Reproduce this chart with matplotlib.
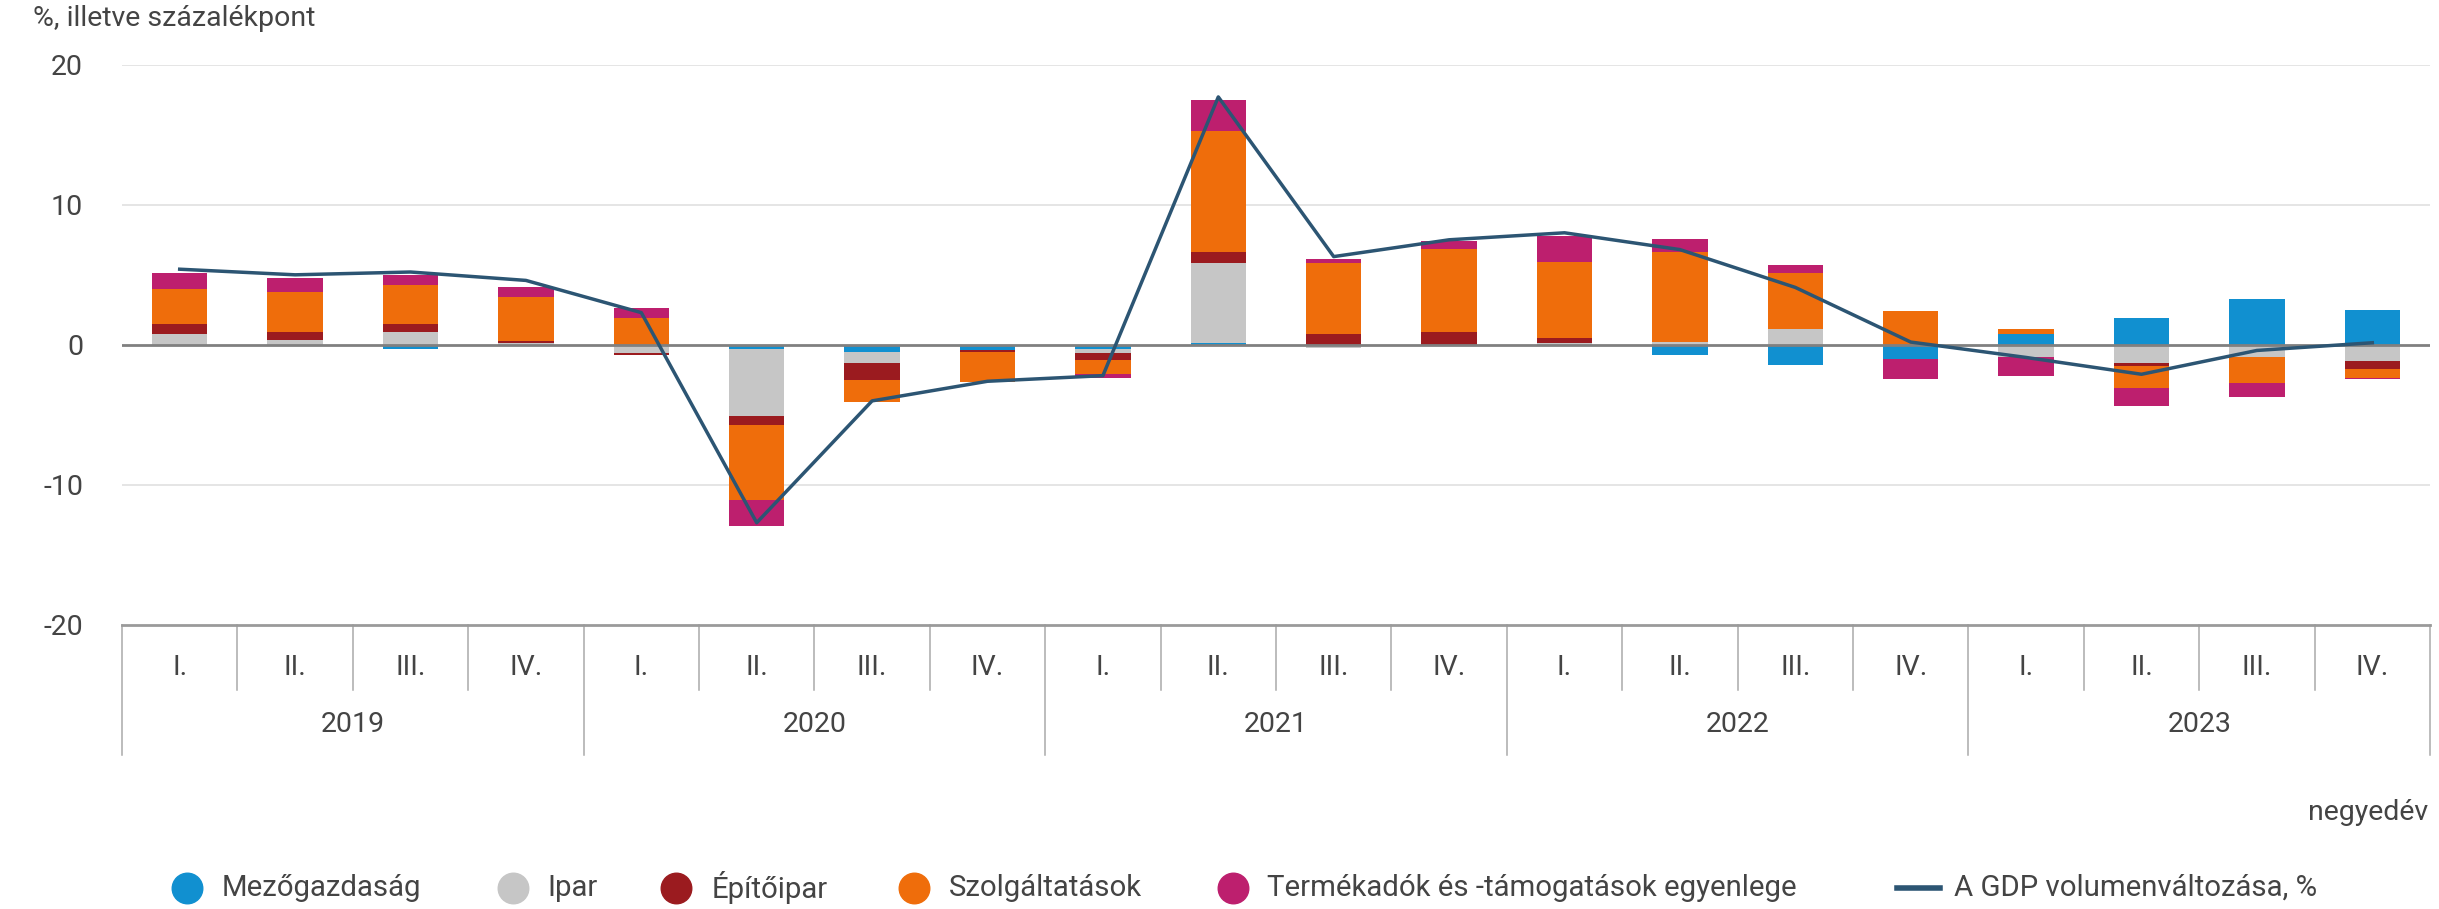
import numpy as np
import matplotlib.pyplot as plt
from matplotlib.lines import Line2D

plt.rcParams['font.family'] = ['Roboto', 'DejaVu Sans']
plt.rcParams['axes.unicode_minus'] = False

quarters = ["I.", "II.", "III.", "IV."] * 5
years = ["2019", "2020", "2021", "2022", "2023"]

# contributions, percentage points
mezogazdasag = [0.0, 0.0, -0.3, 0.0, 0.0, -0.3, -0.5, -0.35, -0.3, 0.1,
                0.0, 0.0, 0.0, -0.75, -1.45, -1.0, 0.75, 1.9, 3.25, 2.5]
ipar = [0.75, 0.35, 0.95, 0.1, -0.6, -4.8, -0.8, 0.0, -0.3, 5.75,
        -0.2, -0.1, 0.1, 0.2, 1.15, 0.0, -0.9, -1.3, -0.85, -1.15]
epitoipar = [0.75, 0.6, 0.55, 0.15, -0.1, -0.6, -1.2, -0.15, -0.5, 0.8,
             0.75, 0.95, 0.4, 0.0, 0.0, 0.0, 0.0, -0.2, 0.0, -0.6]
szolgaltatasok = [2.5, 2.85, 2.75, 3.2, 1.95, -5.35, -1.6, -2.15, -0.95, 8.6,
                  5.1, 5.9, 5.4, 6.4, 4.0, 2.45, 0.4, -1.55, -1.9, -0.6]
termekadok = [1.1, 1.0, 0.75, 0.7, 0.7, -1.85, 0.0, 0.0, -0.3, 2.2,
              0.25, 0.55, 1.9, 0.95, 0.55, -1.45, -1.3, -1.3, -0.95, -0.1]
gdp = [5.4, 5.0, 5.2, 4.6, 2.3, -12.7, -4.0, -2.6, -2.2, 17.7,
       6.3, 7.5, 8.0, 6.8, 4.1, 0.2, -0.9, -2.1, -0.4, 0.15]

series = [mezogazdasag, ipar, epitoipar, szolgaltatasok, termekadok]
series_names = ["Mezőgazdaság", "Ipar", "Építőipar", "Szolgáltatások",
                "Termékadók és -támogatások egyenlege"]
series_colors = ["#1190d0", "#c6c6c6", "#9b1b1f", "#ef6d0b", "#bd1f6e"]
gdp_name = "A GDP volumenváltozása, %"
gdp_color = "#2c5573"

text_color = "#444444"
W, H = 2439, 909

fig = plt.figure(figsize=(W / 100, H / 100), dpi=100)
ax = fig.add_axes([122 / W, 1 - 625 / H, (2430 - 122) / W, (625 - 64.7) / H])

x = np.arange(len(quarters))
pos_base = np.zeros(len(x))
neg_base = np.zeros(len(x))
for vals, color in zip(series, series_colors):
    v = np.asarray(vals)
    pos = np.where(v > 0, v, 0)
    neg = np.where(v < 0, v, 0)
    ax.bar(x, pos, bottom=pos_base, width=0.48, color=color, zorder=2, linewidth=0)
    ax.bar(x, neg, bottom=neg_base, width=0.48, color=color, zorder=2, linewidth=0)
    pos_base += pos
    neg_base += neg

for g in [-10, 10, 20]:
    ax.axhline(g, color="#dedede", lw=1.1, zorder=1)
ax.axhline(0, color="#808080", lw=2.0, zorder=3)

ax.plot(x, gdp, color=gdp_color, lw=2.5, zorder=4, solid_joinstyle='round')

ax.set_xlim(-0.5, len(x) - 0.5)
ax.set_ylim(-20, 20)
ax.set_yticks([-20, -10, 0, 10, 20])
ax.set_xticks([])
ax.tick_params(axis='y', length=0, pad=28, labelsize=20.5, labelcolor=text_color)
for s in ["top", "right", "left"]:
    ax.spines[s].set_visible(False)
ax.spines["bottom"].set_color("#9a9a9a")
ax.spines["bottom"].set_linewidth(2.0)

# category axis: quarters and years
tr = ax.get_xaxis_transform()
for i, q in enumerate(quarters):
    ax.text(i, -0.075, q, transform=tr, ha='center', va='center',
            fontsize=20.5, color=text_color)
for k in range(len(x) + 1):
    low = -0.232 if k % 4 == 0 else -0.116
    ax.plot([k - 0.5, k - 0.5], [0, low], transform=tr, color="#aaaaaa",
            lw=1.1, clip_on=False)
for j, yr in enumerate(years):
    ax.text(j * 4 + 1.5, -0.1767, yr, transform=tr, ha='center', va='center',
            fontsize=20.5, color=text_color)

fig.text(33 / W, 1 - 18 / H, "%, illetve százalékpont", ha='left', va='center',
         fontsize=20.5, color=text_color)
fig.text(2428 / W, 1 - 813 / H, "negyedév", ha='right', va='center',
         fontsize=20.5, color=text_color)

# legend row
leg_y = 1 - 888 / H
marker_x = [187, 513, 676, 914, 1233]
label_x = [222, 547, 712, 949, 1267]
for mx, lx, name, color in zip(marker_x, label_x, series_names, series_colors):
    fig.add_artist(Line2D([mx / W], [leg_y], marker='o', markersize=22,
                          color=color, linestyle='none', transform=fig.transFigure))
    fig.text(lx / W, leg_y, name, ha='left', va='center', fontsize=21.2, color=text_color)
fig.add_artist(Line2D([1897 / W, 1940 / W], [leg_y, leg_y], color=gdp_color, lw=4,
                      transform=fig.transFigure))
fig.text(1954 / W, leg_y, gdp_name, ha='left', va='center', fontsize=21.2, color=text_color)

fig.savefig("out.png", dpi=100)
